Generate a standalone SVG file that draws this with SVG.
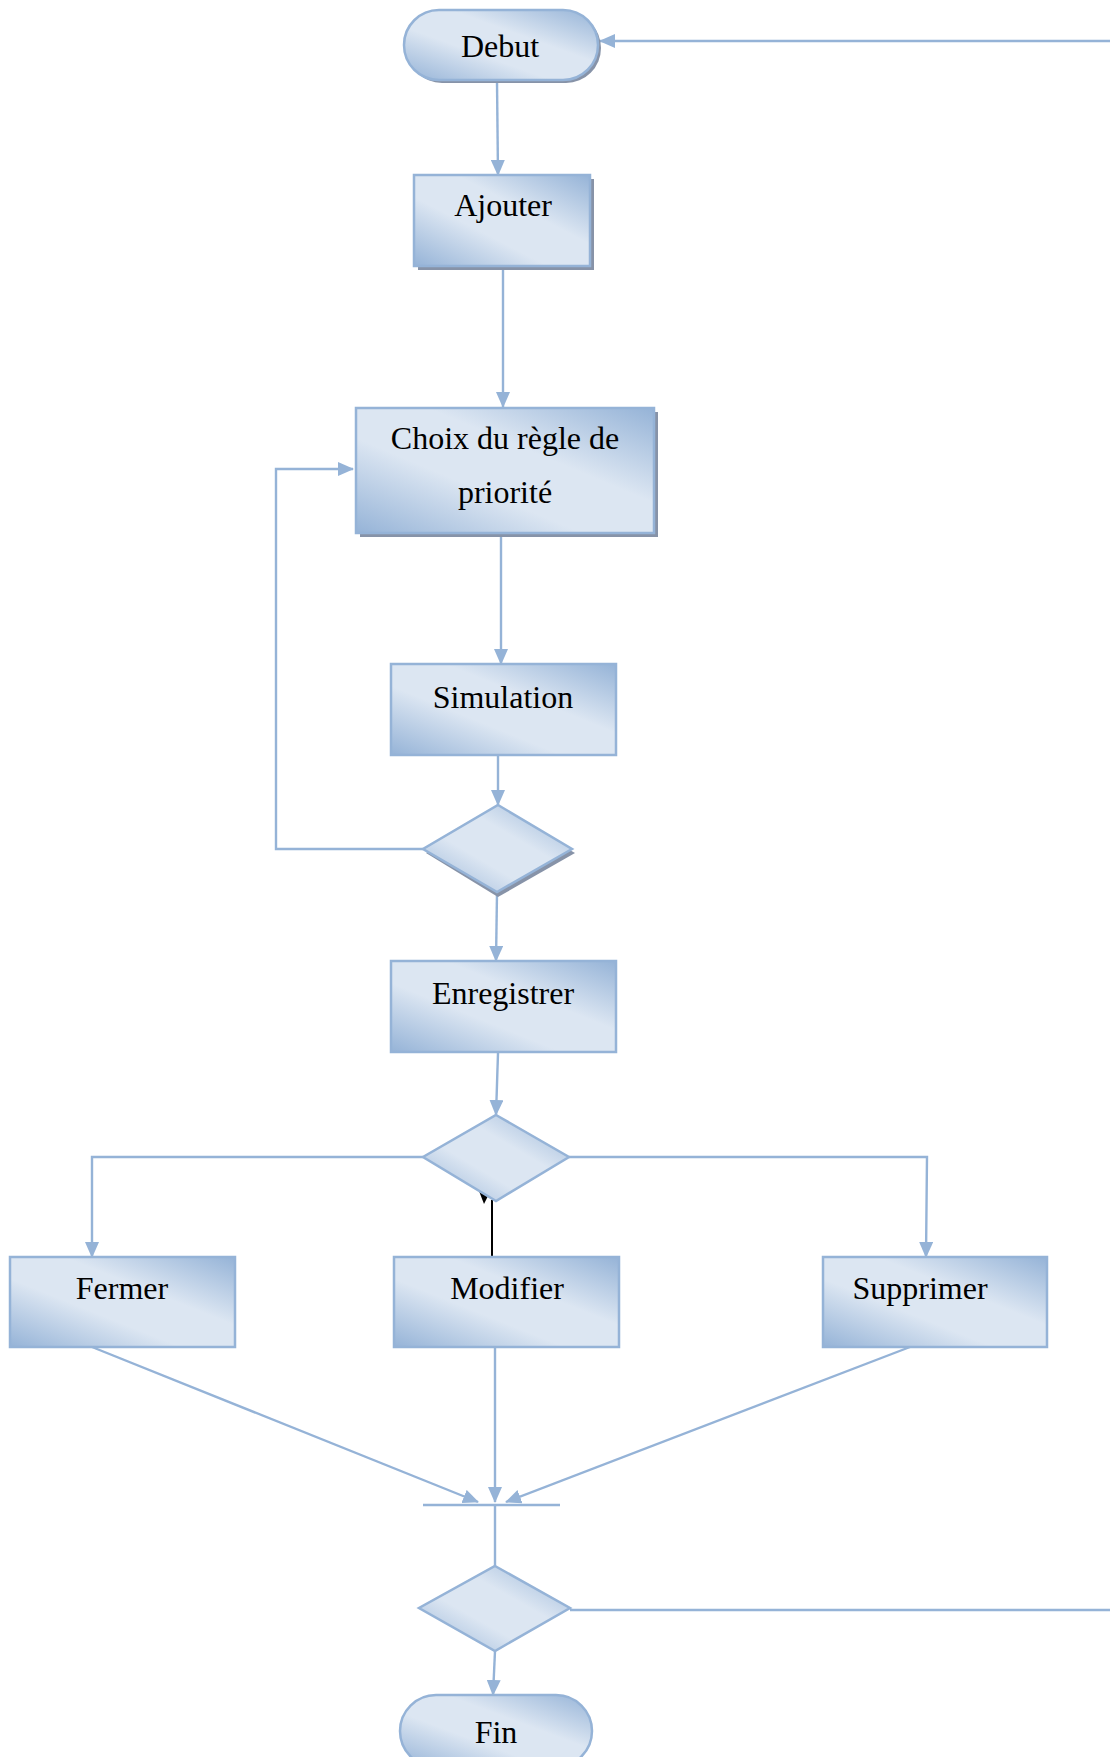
<svg xmlns="http://www.w3.org/2000/svg" width="1110" height="1757" viewBox="0 0 1110 1757">
<defs>
<linearGradient id="g" x1="1" y1="0" x2="0" y2="1">
<stop offset="0" stop-color="#95b3d7"/>
<stop offset="0.38" stop-color="#dce6f2"/>
<stop offset="0.62" stop-color="#dce6f2"/>
<stop offset="1" stop-color="#95b3d7"/>
</linearGradient>
<marker id="a" markerUnits="userSpaceOnUse" markerWidth="16" markerHeight="14" refX="15" refY="7" orient="auto">
<path d="M0,0 L16,7 L0,14 Z" fill="#95b3d7"/>
</marker>
</defs>
<style>
.n{fill:url(#g);stroke:#95b3d7;stroke-width:2.5}
.s{fill:#8793a8}
.t{font-family:"Liberation Serif","Times New Roman",serif;font-size:32px;fill:#000;text-anchor:middle}
.c{fill:none;stroke:#95b3d7;stroke-width:2.4}
</style>
<rect width="1110" height="1757" fill="#fff"/>
<g id="connectors">
<line class="c" x1="1110" y1="41" x2="600" y2="41" marker-end="url(#a)"/>
<line class="c" x1="497" y1="82" x2="498" y2="175" marker-end="url(#a)"/>
<line class="c" x1="503" y1="270" x2="503" y2="407" marker-end="url(#a)"/>
<line class="c" x1="501" y1="537" x2="501" y2="664" marker-end="url(#a)"/>
<line class="c" x1="498" y1="756" x2="498" y2="805" marker-end="url(#a)"/>
<polyline class="c" points="423,849 276,849 276,469 353,469" marker-end="url(#a)"/>
<line class="c" x1="497" y1="893" x2="496" y2="961" marker-end="url(#a)"/>
<line class="c" x1="498" y1="1053" x2="496" y2="1115" marker-end="url(#a)"/>
<polyline class="c" points="423,1157 92,1157 92,1257" marker-end="url(#a)"/>
<polyline class="c" points="569,1157 927,1157 926,1257" marker-end="url(#a)"/>
<line x1="492" y1="1257" x2="492" y2="1200" stroke="#000" stroke-width="2"/>
<polygon points="479,1191 489,1194 484,1204" fill="#000"/>
<line class="c" x1="92" y1="1347" x2="478" y2="1502" marker-end="url(#a)"/>
<line class="c" x1="495" y1="1347" x2="495" y2="1502" marker-end="url(#a)"/>
<line class="c" x1="910" y1="1347" x2="506" y2="1502" marker-end="url(#a)"/>
<line class="c" x1="423" y1="1505" x2="560" y2="1505"/>
<line class="c" x1="495" y1="1505" x2="495" y2="1566"/>
<line class="c" x1="570" y1="1610" x2="1110" y2="1610"/>
<line class="c" x1="495" y1="1651" x2="493" y2="1695" marker-end="url(#a)"/>
</g>
<g id="debut">
<rect class="s" x="407" y="13" width="194" height="70" rx="35"/>
<rect class="n" x="404" y="10" width="194" height="70" rx="35"/>
<text class="t" x="500" y="57">Debut</text>
</g>
<g id="ajouter">
<rect class="s" x="418" y="179" width="176" height="91"/>
<rect class="n" x="414" y="175" width="176" height="91"/>
<text class="t" x="503" y="216">Ajouter</text>
</g>
<g id="choix">
<rect class="s" x="360" y="412" width="298" height="125"/>
<rect class="n" x="356" y="408" width="298" height="125"/>
<text class="t" x="505" y="449">Choix du règle de</text>
<text class="t" x="505" y="503">priorité</text>
</g>
<g id="simulation">
<rect class="n" x="391" y="664" width="225" height="91"/>
<text class="t" x="503" y="708">Simulation</text>
</g>
<g id="decision1">
<polygon class="s" points="498,809 575,853 498,897 426,853"/>
<polygon class="n" points="498,805 572,849 497,892 423,849"/>
</g>
<g id="enregistrer">
<rect class="n" x="391" y="961" width="225" height="91"/>
<text class="t" x="503" y="1004">Enregistrer</text>
</g>
<g id="decision2">
<polygon class="n" points="496,1115 569,1157 496,1201 423,1157"/>
</g>
<g id="fermer">
<rect class="n" x="10" y="1257" width="225" height="90"/>
<text class="t" x="122" y="1299">Fermer</text>
</g>
<g id="modifier">
<rect class="n" x="394" y="1257" width="225" height="90"/>
<text class="t" x="507" y="1299">Modifier</text>
</g>
<g id="supprimer">
<rect class="n" x="823" y="1257" width="224" height="90"/>
<text class="t" x="920" y="1299">Supprimer</text>
</g>
<g id="decision3">
<polygon class="n" points="495,1566 570,1608 495,1651 419,1608"/>
</g>
<g id="fin">
<rect class="n" x="400" y="1695" width="192" height="72" rx="36"/>
<text class="t" x="496" y="1743">Fin</text>
</g>
</svg>
